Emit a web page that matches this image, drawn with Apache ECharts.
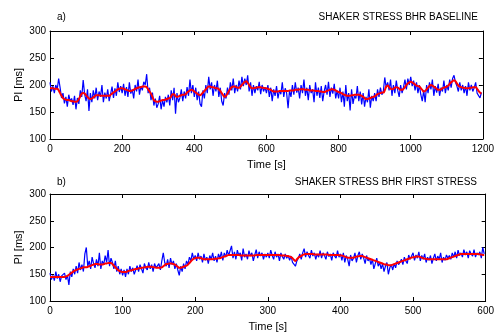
<!DOCTYPE html>
<html><head><meta charset="utf-8">
<script src="https://cdn.jsdelivr.net/npm/echarts@6/dist/echarts.min.js"></script>
<style>html,body{margin:0;padding:0;background:#fff}#c{width:497px;height:333px}</style>
</head><body><div id="c"></div>
<script>
// ---- data ----
var xTicksTop = [0, 200, 400, 600, 800, 1000, 1200];
var xTicksBottom = [0, 100, 200, 300, 400, 500, 600];
var yTicks = [100, 150, 200, 250, 300];
var stepTop = 4;     // seconds between samples (top)
var stepBottom = 2;  // seconds between samples (bottom)

var baselineRaw = [
205,188,198,185,200,192,212,195,176,185,166,178,160,182,170,175,163,180,155,176,165,190,178,209,183,
170,192,152,185,168,190,175,195,172,188,178,200,168,186,175,192,170,183,197,176,194,180,205,187,198,
185,202,180,196,178,205,184,192,175,200,188,210,182,198,190,206,200,220,185,195,172,186,162,175,158,
165,180,155,172,160,178,168,182,162,190,172,195,147,185,168,176,192,170,188,175,196,180,210,185,200,
178,195,172,188,165,160,190,175,200,185,215,192,205,180,200,188,208,178,195,170,162,185,175,195,182,
205,190,212,185,200,188,208,192,215,198,212,200,218,188,205,180,200,185,198,190,206,183,200,188,196,
185,200,178,195,170,192,180,198,175,190,183,205,178,194,185,157,190,178,200,182,205,186,195,175,200,
185,210,180,195,172,200,185,192,168,205,180,195,176,198,170,188,200,182,206,178,195,184,202,175,190,
175,195,168,188,160,200,170,185,153,192,165,180,175,198,170,188,164,185,160,178,168,192,158,180,170,
185,170,192,178,195,182,188,214,195,205,190,210,180,200,185,208,190,178,200,185,196,210,192,212,200,
215,198,208,190,205,185,200,182,170,190,168,200,185,205,192,210,180,198,186,202,180,195,188,208,185,
200,190,210,195,212,218,205,198,188,205,190,200,185,198,180,205,190,200,188,195,205,185,182,176,186
];
var baselineSmooth = [
194,194,194,193,193,193,190,185,180,176,174,173,172,172,171,170,170,169,169,170,174,179,184,185,184,
181,178,175,174,175,177,179,181,181,181,180,180,180,180,180,180,180,182,184,186,188,190,192,193,194,
194,193,192,191,190,189,189,190,191,193,194,195,196,196,197,197,197,196,192,188,184,178,172,170,169,
169,170,171,172,172,173,174,175,176,179,183,183,179,178,179,180,181,182,182,183,186,188,190,191,190,
188,186,184,182,181,183,186,189,192,195,197,197,196,196,195,194,194,192,189,185,181,178,180,184,189,
193,196,197,197,196,195,195,197,200,203,206,207,204,200,196,194,194,195,195,196,196,196,195,195,194,
194,193,192,191,189,188,188,188,188,189,189,189,189,189,189,189,190,190,190,190,191,191,191,192,192,
192,192,191,191,191,190,190,190,190,189,189,189,188,188,187,187,188,189,190,191,192,192,191,190,188,
187,186,185,183,182,181,180,180,180,181,181,182,182,182,182,181,180,178,176,174,174,175,176,177,178,
179,181,183,184,185,186,186,190,197,199,196,193,192,193,195,196,195,193,191,191,193,196,200,203,205,
206,205,203,201,199,198,197,194,191,188,189,192,195,198,200,199,197,195,193,191,191,192,194,195,196,
197,199,202,205,207,209,207,203,199,197,196,195,195,194,194,194,195,195,196,196,196,193,189,186,184
];

var stressRaw = [
152,140,148,138,155,142,150,136,147,144,152,140,148,130,155,145,160,150,165,152,172,158,168,155,188,
200,165,175,160,182,170,162,178,165,190,160,175,168,185,172,195,165,180,172,160,175,155,165,150,160,
148,158,145,160,150,165,155,162,150,158,166,155,168,160,152,170,162,158,172,160,168,155,170,162,165,
170,158,175,190,172,165,178,162,180,168,175,160,170,158,148,165,155,170,160,175,168,182,175,190,178,
185,175,190,178,184,172,188,176,182,170,185,178,190,175,184,172,188,180,192,176,190,182,195,185,188,
203,180,192,178,195,185,190,176,198,182,188,178,194,184,190,175,186,196,180,192,184,190,178,188,182,
190,180,195,185,178,192,182,188,175,190,183,178,188,180,185,176,184,172,170,165,175,180,188,178,190,
198,182,192,185,180,195,184,190,178,188,182,194,180,190,185,178,192,183,188,176,190,184,180,194,182,
188,176,190,172,185,178,165,186,175,180,190,172,185,192,178,188,180,170,185,175,180,168,178,160,170,
180,165,172,160,170,155,165,172,150,162,168,158,170,162,175,168,172,178,168,182,175,170,186,178,184,
190,176,186,180,192,175,185,178,188,172,182,176,185,170,180,188,175,184,178,190,172,182,176,186,180,
185,178,190,182,192,180,195,185,190,182,196,186,192,180,194,188,184,196,182,190,186,192,180,200,188
];
var stressSmooth = [
145,145,145,145,145,145,145,145,145,145,145,146,147,149,151,153,155,157,158,159,160,161,162,163,163,
163,164,165,166,167,168,169,169,169,168,168,168,169,170,170,171,171,171,169,166,163,160,158,156,155,
154,154,154,155,156,157,157,158,159,160,160,161,161,162,162,163,163,164,164,164,164,163,163,162,162,
162,162,163,165,167,169,169,170,170,170,169,168,166,164,162,162,163,164,165,166,168,171,174,177,179,
180,181,181,181,180,179,178,178,178,178,178,178,178,179,179,179,180,180,181,182,183,184,185,186,186,
186,186,186,186,186,186,185,185,185,185,185,185,185,185,185,185,185,186,186,186,186,186,186,186,186,
186,186,186,186,186,186,186,186,186,185,185,185,185,184,184,183,182,180,177,175,178,181,183,184,186,
187,188,188,188,188,188,188,187,187,187,187,187,187,187,187,187,187,186,186,186,186,186,186,186,186,
185,185,184,183,182,181,181,181,181,181,182,183,183,184,184,184,183,182,181,180,179,178,177,176,175,
174,173,172,171,170,169,168,168,167,167,167,168,169,170,171,172,173,174,175,176,177,178,179,180,181,
182,182,183,183,183,182,181,180,179,179,178,178,178,178,178,178,178,178,178,178,178,178,178,178,179,
180,181,182,183,184,185,186,187,188,188,188,188,188,188,188,188,188,188,188,188,188,187,187,186,186
];

function pairs(arr, step) { return arr.map(function (v, i) { return [i * step, v]; }); }

var FONT = 'Liberation Sans';
var black = '#000';
function xAx(grid, ticks, main) {
  var n = ticks.length - 1;
  return {
    type: 'value', gridIndex: grid, min: ticks[0], max: ticks[n], interval: ticks[1] - ticks[0],
    position: main ? 'bottom' : 'top',
    axisLine: { show: true, onZero: false, lineStyle: { color: black, width: 1 } },
    axisTick: { show: true, inside: true, length: 4, lineStyle: { color: black } },
    axisLabel: { show: main, color: black, fontFamily: FONT, fontSize: 10, margin: 5,
      formatter: function (v) { return String(v); } },
    splitLine: { show: false },
    name: main ? 'Time [s]' : '', nameLocation: 'middle', nameGap: 20,
    nameTextStyle: { color: black, fontFamily: FONT, fontSize: 11 }
  };
}
function yAx(grid, main) {
  return {
    type: 'value', gridIndex: grid, min: yTicks[0], max: yTicks[yTicks.length - 1], interval: yTicks[1] - yTicks[0],
    position: main ? 'left' : 'right',
    axisLine: { show: true, onZero: false, lineStyle: { color: black, width: 1 } },
    axisTick: { show: true, inside: true, length: 4, lineStyle: { color: black } },
    axisLabel: { show: main, color: black, fontFamily: FONT, fontSize: 10, margin: 4 },
    splitLine: { show: false },
    name: main ? 'PI [ms]' : '', nameLocation: 'middle', nameGap: 26, nameMoveOverlap: false,
    nameTextStyle: { color: black, fontFamily: FONT, fontSize: 11 }
  };
}
function txt(x, y, s, align) {
  return { type: 'text', left: align === 'right' ? null : x, right: align === 'right' ? x : null, top: y,
    style: { text: s, fill: black, font: '10px "Liberation Sans"' } };
}

var chart = echarts.init(document.getElementById('c'), null, { renderer: 'canvas' });
chart.setOption({
  animation: false,
  backgroundColor: '#fff',
  grid: [
    { left: 50, top: 31, width: 438, height: 108 },
    { left: 50, top: 194, width: 437, height: 108 }
  ],
  xAxis: [xAx(0, xTicksTop, true), xAx(0, xTicksTop, false), xAx(1, xTicksBottom, true), xAx(1, xTicksBottom, false)],
  yAxis: [yAx(0, true), yAx(0, false), yAx(1, true), yAx(1, false)],
  graphic: [
    txt(57, 12, 'a)'),
    txt(19, 12, 'SHAKER STRESS BHR BASELINE', 'right'),
    txt(57, 177, 'b)'),
    txt(20, 177, 'SHAKER STRESS BHR FIRST STRESS', 'right')
  ],
  series: [
    { type: 'line', xAxisIndex: 0, yAxisIndex: 0, data: pairs(baselineRaw, stepTop), showSymbol: false,
      lineStyle: { color: '#0000ff', width: 1.2 }, silent: true },
    { type: 'line', xAxisIndex: 0, yAxisIndex: 0, data: pairs(baselineSmooth, stepTop), showSymbol: false, smooth: true,
      lineStyle: { color: '#ff0000', width: 2 }, silent: true },
    { type: 'line', xAxisIndex: 2, yAxisIndex: 2, data: pairs(stressRaw, stepBottom), showSymbol: false,
      lineStyle: { color: '#0000ff', width: 1.2 }, silent: true },
    { type: 'line', xAxisIndex: 2, yAxisIndex: 2, data: pairs(stressSmooth, stepBottom), showSymbol: false, smooth: true,
      lineStyle: { color: '#ff0000', width: 2 }, silent: true }
  ]
});
</script></body></html>
